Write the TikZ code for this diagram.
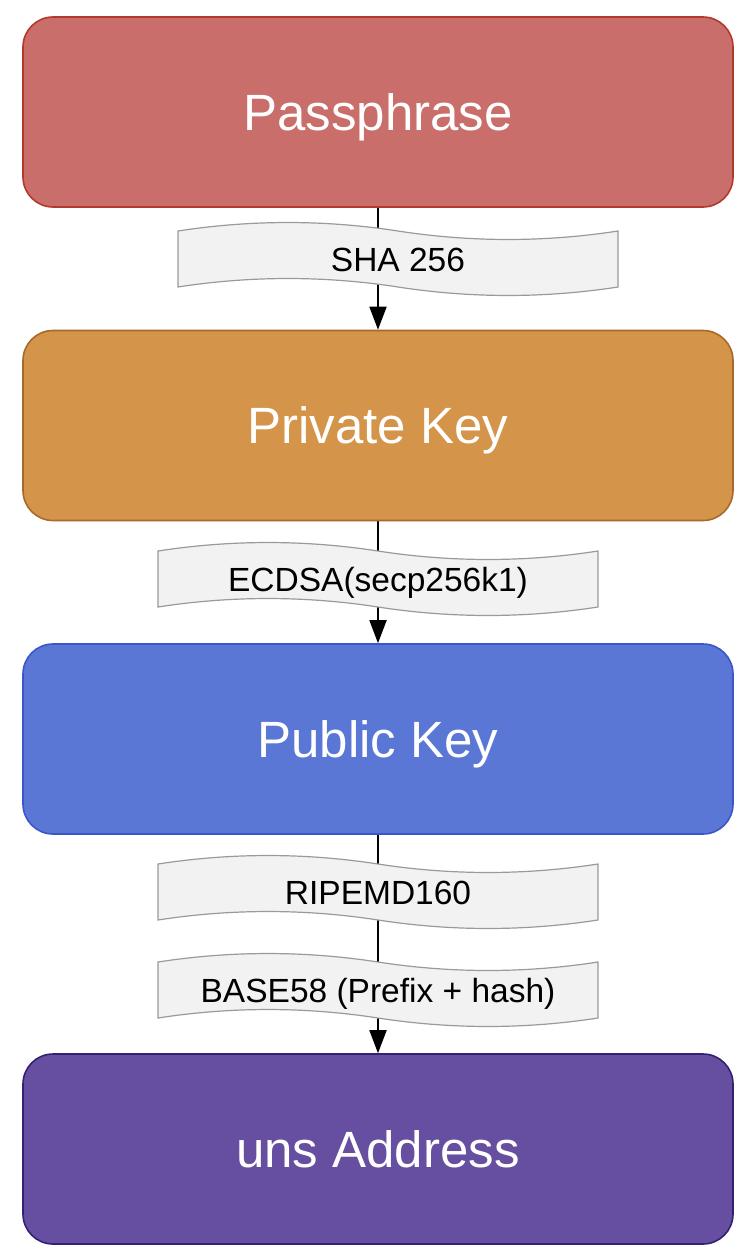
\documentclass[tikz,border=0pt]{standalone}
\usepackage{fontspec}
\setmainfont{Liberation Sans}
\usetikzlibrary{arrows.meta,backgrounds}

\definecolor{passfill}{HTML}{C96E6A}
\definecolor{passline}{HTML}{B23A2C}
\definecolor{privfill}{HTML}{D4954B}
\definecolor{privline}{HTML}{A8682A}
\definecolor{pubfill}{HTML}{5A77D5}
\definecolor{publine}{HTML}{3C55C9}
\definecolor{addrfill}{HTML}{664EA0}
\definecolor{addrline}{HTML}{332174}
\definecolor{tapefill}{HTML}{F2F2F2}
\definecolor{tapeline}{HTML}{9A9A9A}

\tikzset{
    keybox/.style={rounded corners=30pt, line width=1.6pt, minimum width=710pt,
        minimum height=190pt, text=white, text height=36pt, text depth=0pt,
        font=\fontsize{51}{60}\selectfont},
    tapelabel/.style={minimum width=440pt, minimum height=56pt,
        text height=24pt, text depth=0pt, font=\fontsize{33.5}{40}\selectfont},
    flow/.style={line width=1.8pt, -{Triangle[width=17pt,length=23pt]}}
}

\begin{document}
\begin{tikzpicture}[x=1pt,y=-1pt]
    \useasboundingbox (0,0) rectangle (754,1258);
    \node[keybox, draw=passline, fill=passfill] (pass) at (378,112) {Passphrase};
    \node[keybox, draw=privline, fill=privfill] (priv) at (378,425.5) {Private Key};
    \node[keybox, draw=publine, fill=pubfill] (pub) at (378,739) {Public Key};
    \node[keybox, draw=addrline, fill=addrfill] (addr) at (378,1149) {uns Address};
    \node[tapelabel] (sha) at (398,259) {SHA 256};
    \node[tapelabel] (ecdsa) at (378,579) {ECDSA(secp256k1)};
    \node[tapelabel] (ripemd) at (378,892) {RIPEMD160};
    \node[tapelabel] (base58) at (378,990) {BASE58 (Prefix + hash)};
    \begin{scope}[on background layer]
        \draw[flow] (pass) -- (priv);
        \draw[flow] (priv) -- (pub);
        \draw[flow] (pub) -- (addr);
        \foreach \t in {sha,ecdsa,ripemd,base58}
            \filldraw[shift={(\t.center)}, fill=tapefill, draw=tapeline, line width=1.2pt]
                (-220,-28) .. controls (-147,-39.3) and (-73,-39.3) .. (0,-28)
                .. controls (73,-16.7) and (147,-16.7) .. (220,-28) -- (220,28)
                .. controls (147,39.3) and (73,39.3) .. (0,28)
                .. controls (-73,16.7) and (-147,16.7) .. (-220,28) -- cycle;
    \end{scope}
\end{tikzpicture}
\end{document}
